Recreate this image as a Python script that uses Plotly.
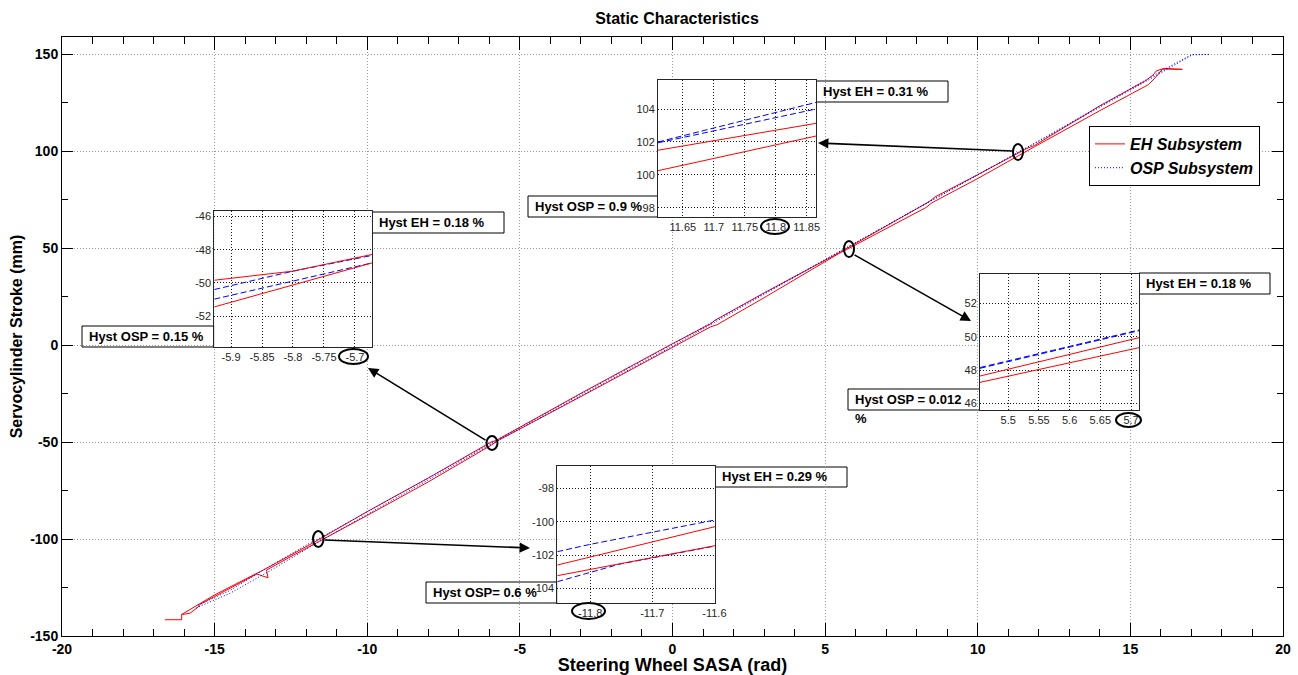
import plotly.graph_objects as go

# ---------------- main curves: steering wheel angle (rad) vs stroke (mm)
eh_x = [-16.63, -16.08, -16.08, -15.81, -15.55, -15.48, -15.0, -14.2, -13.62, -13.25,
        -13.3, -12.5, -11.85, -11.6, -10.0, -8.0, -5.93, -5.8, -5.67, -3.0, 0.0,
        1.25, 1.45, 3.0, 5.45, 5.71, 8.3, 8.5, 10.0, 11.61, 11.86,
        14.0, 15.3, 15.6, 15.9, 16.05, 16.7,
        16.1, 15.85, 15.75, 15.5, 14.0, 11.865, 11.61, 10.0, 8.6, 8.4,
        5.71, 5.45, 3.0, 1.35, 1.3, 0.0, -3.0, -5.67, -5.8, -5.93,
        -8.0, -10.0, -11.6, -11.85, -13.0, -13.35, -15.0, -15.6, -16.08]
eh_y = [-141.6, -141.6, -138.9, -138.3, -135.2, -133.7, -129.6, -123.0, -118.0, -120.0,
        -116.0, -109.0, -103.3, -101.4, -87.8, -70.5, -51.5, -50.1, -48.8, -26.5, -0.8,
        9.5, 10.5, 24.5, 47.3, 49.4, 71.0, 73.5, 86.0, 100.3, 102.4,
        121.0, 132.0, 134.5, 139.5, 142.5, 142.3,
        142.8, 141.5, 139.5, 136.5, 123.5, 103.1, 101.5, 88.0, 76.5, 74.0,
        49.9, 47.6, 27.0, 12.5, 11.5, 0.8, -24.8, -48.3, -49.3, -49.8,
        -68.5, -85.8, -100.3, -102.6, -112.5, -115.5, -128.8, -134.5, -138.9]

osp_x = [-15.6, -14.5, -13.2, -11.85, -11.6, -5.93, -5.67, 0.0, 5.45, 5.71,
         11.61, 11.865, 15.5, 16.5, 17.05, 17.6,
         17.0, 16.4, 15.5, 11.865, 11.61, 5.71, 5.45, 0.0, -5.67, -5.93,
         -11.6, -11.85, -13.2, -14.5, -15.6]
osp_y = [-135.5, -128.0, -116.5, -103.6, -101.5, -51.0, -48.8, -0.5, 48.1, 50.35,
         101.95, 104.0, 136.0, 145.0, 150.0, 150.0,
         149.8, 144.8, 136.8, 104.4, 102.0, 50.4, 48.15, 0.5, -48.3, -50.4,
         -99.9, -101.8, -114.0, -126.5, -134.5]

x_tickvals = [-20, -15, -10, -5, 0, 5, 10, 15, 20]
x_ticktext = ["-20", "-15", "-10", "-5", "0", "5", "10", "15", "20"]
y_tickvals = [-150, -100, -50, 0, 50, 100, 150]
y_ticktext = ["-150", "-100", "-50", "0", "50", "100", "150"]

# ---------------- zoom window 1 (around 11.8 rad)
z1_osp_a_x = [11.61, 11.865]
z1_osp_a_y = [102.0, 104.4]
z1_osp_b_x = [11.61, 11.865]
z1_osp_b_y = [101.95, 104.0]
z1_eh_a_x = [11.61, 11.865]
z1_eh_a_y = [101.5, 103.13]
z1_eh_b_x = [11.61, 11.865]
z1_eh_b_y = [100.26, 102.36]
z1_xticks = [11.65, 11.7, 11.75, 11.8, 11.85]
z1_xtext = ["11.65", "11.7", "11.75", "11.8", "11.85"]
z1_yticks = [98, 100, 102, 104]
z1_ytext = ["98", "100", "102", "104"]

# ---------------- zoom window 2 (around -5.8 rad)
z2_osp_a_x = [-5.927, -5.8, -5.672]
z2_osp_a_y = [-50.4, -49.29, -48.34]
z2_osp_b_x = [-5.927, -5.8, -5.672]
z2_osp_b_y = [-50.98, -49.9, -48.79]
z2_eh_a_x = [-5.927, -5.8, -5.672]
z2_eh_a_y = [-49.84, -49.29, -48.28]
z2_eh_b_x = [-5.927, -5.86, -5.8, -5.672]
z2_eh_b_y = [-51.45, -50.74, -50.1, -48.79]
z2_xticks = [-5.9, -5.85, -5.8, -5.75, -5.7]
z2_xtext = ["-5.9", "-5.85", "-5.8", "-5.75", "-5.7"]
z2_yticks = [-52, -50, -48, -46]
z2_ytext = ["-52", "-50", "-48", "-46"]

# ---------------- zoom window 3 (around 5.6 rad)
z3_osp_a_x = [5.454, 5.55, 5.62, 5.713]
z3_osp_a_y = [48.1, 48.95, 49.55, 50.36]
z3_osp_b_x = [5.454, 5.55, 5.62, 5.713]
z3_osp_b_y = [48.15, 49.0, 49.6, 50.4]
z3_eh_a_x = [5.454, 5.713]
z3_eh_a_y = [47.64, 49.94]
z3_eh_b_x = [5.454, 5.713]
z3_eh_b_y = [47.26, 49.34]
z3_xticks = [5.5, 5.55, 5.6, 5.65, 5.7]
z3_xtext = ["5.5", "5.55", "5.6", "5.65", "5.7"]
z3_yticks = [46, 48, 50, 52]
z3_ytext = ["46", "48", "50", "52"]

# ---------------- zoom window 4 (around -11.7 rad)
z4_osp_a_x = [-11.853, -11.8, -11.599]
z4_osp_a_y = [-101.8, -101.36, -99.9]
z4_osp_b_x = [-11.853, -11.752, -11.599]
z4_osp_b_y = [-103.6, -102.54, -101.46]
z4_eh_a_x = [-11.853, -11.599]
z4_eh_a_y = [-102.6, -100.3]
z4_eh_b_x = [-11.853, -11.599]
z4_eh_b_y = [-103.24, -101.44]
z4_xticks = [-11.8, -11.7, -11.6]
z4_xtext = ["-11.8", "-11.7", "-11.6"]
z4_yticks = [-104, -102, -100, -98]
z4_ytext = ["-104", "-102", "-100", "-98"]

# ---------------- page geometry (pixels)
W, H = 1298, 675
PL, PR, PT, PB = 62, 1283, 37, 636


def fx(px):
    return (px - PL) / (PR - PL)


def fy(py):
    return (PB - py) / (PB - PT)


FONT = "Liberation Sans, Arial, Helvetica, sans-serif"
RED = "#ff0000"
BLUE = "#0000ff"

fig = go.Figure()

fig.add_trace(go.Scatter(x=eh_x, y=eh_y, mode="lines", name="EH Subsystem",
                         line=dict(color=RED, width=1)))
fig.add_trace(go.Scatter(x=osp_x, y=osp_y, mode="lines", name="OSP Subsystem",
                         line=dict(color=BLUE, width=1, dash="1px,2px")))

insets = [
    dict(k=2, box=(658, 80, 816, 217), xr=[11.61, 11.865], yr=[97.45, 105.76],
         xt=(z1_xticks, z1_xtext), yt=(z1_yticks, z1_ytext),
         osp=[(z1_osp_a_x, z1_osp_a_y), (z1_osp_b_x, z1_osp_b_y)],
         eh=[(z1_eh_a_x, z1_eh_a_y), (z1_eh_b_x, z1_eh_b_y)]),
    dict(k=3, box=(214.3, 211, 372.3, 347), xr=[-5.927, -5.672], yr=[-53.87, -45.66],
         xt=(z2_xticks, z2_xtext), yt=(z2_yticks, z2_ytext),
         osp=[(z2_osp_a_x, z2_osp_a_y), (z2_osp_b_x, z2_osp_b_y)],
         eh=[(z2_eh_a_x, z2_eh_a_y), (z2_eh_b_x, z2_eh_b_y)]),
    dict(k=4, box=(980, 274, 1139, 410), xr=[5.454, 5.713], yr=[45.6, 53.76],
         xt=(z3_xticks, z3_xtext), yt=(z3_yticks, z3_ytext),
         osp=[(z3_osp_a_x, z3_osp_a_y), (z3_osp_b_x, z3_osp_b_y)],
         eh=[(z3_eh_a_x, z3_eh_a_y), (z3_eh_b_x, z3_eh_b_y)]),
    dict(k=5, box=(557.3, 466, 715, 602.7), xr=[-11.853, -11.599], yr=[-104.86, -96.66],
         xt=(z4_xticks, z4_xtext), yt=(z4_yticks, z4_ytext),
         osp=[(z4_osp_a_x, z4_osp_a_y), (z4_osp_b_x, z4_osp_b_y)],
         eh=[(z4_eh_a_x, z4_eh_a_y), (z4_eh_b_x, z4_eh_b_y)]),
]

inset_axis = dict(showline=True, mirror=True, linecolor="#262626", linewidth=1,
                  ticks="", showgrid=True, gridcolor="#1a1a1a", griddash="1px,2px",
                  gridwidth=1, zeroline=False, fixedrange=True, automargin=False,
                  tickfont=dict(family=FONT, size=11, color="#262626"))

layout_axes = {}
for ins in insets:
    k = ins["k"]
    x0, y0, x1, y1 = ins["box"]
    for xs, ys in ins["osp"]:
        fig.add_trace(go.Scatter(x=xs, y=ys, mode="lines", showlegend=False,
                                 xaxis=f"x{k}", yaxis=f"y{k}",
                                 line=dict(color=BLUE, width=1, dash="6px,3px")))
    for xs, ys in ins["eh"]:
        fig.add_trace(go.Scatter(x=xs, y=ys, mode="lines", showlegend=False,
                                 xaxis=f"x{k}", yaxis=f"y{k}",
                                 line=dict(color=RED, width=1)))
    layout_axes[f"xaxis{k}"] = dict(inset_axis, domain=[fx(x0), fx(x1)], range=ins["xr"],
                                    anchor=f"y{k}", tickmode="array",
                                    tickvals=ins["xt"][0], ticktext=ins["xt"][1])
    layout_axes[f"yaxis{k}"] = dict(inset_axis, domain=[fy(y1), fy(y0)], range=ins["yr"],
                                    anchor=f"x{k}", tickmode="array",
                                    tickvals=ins["yt"][0], ticktext=ins["yt"][1])

fig.update_layout(**layout_axes)

main_tickfont = dict(family=FONT, size=14, color="#000000", weight="bold")
fig.update_layout(
    width=W, height=H,
    margin=dict(l=PL, r=W - PR, t=PT, b=H - PB, pad=0, autoexpand=False),
    paper_bgcolor="white", plot_bgcolor="white",
    font=dict(family=FONT, color="#000000"),
    title=dict(text="Static Characteristics", x=677 / W, y=1 - 18 / H,
               xref="container", yref="container", xanchor="center", yanchor="middle",
               font=dict(family=FONT, size=16, weight="bold", color="#000000")),
    xaxis=dict(range=[-20, 20], tickmode="array", tickvals=x_tickvals, ticktext=x_ticktext,
               ticks="inside", ticklen=13, tickcolor="#000000", showline=True, mirror="ticks",
               linecolor="#000000", linewidth=1, showgrid=True, gridcolor="#9a9a9a",
               griddash="1px,2px", zeroline=False, tickfont=main_tickfont, fixedrange=True,
               minor=dict(tick0=0, dtick=1, ticks="inside", ticklen=7, tickcolor="#000000",
                          showgrid=False),
               title=dict(text="Steering Wheel SASA (rad)", standoff=4,
                          font=dict(family=FONT, size=18, weight="bold")),
               automargin=False),
    yaxis=dict(range=[-150, 159], tickmode="array", tickvals=y_tickvals, ticktext=y_ticktext,
               ticks="inside", ticklen=11, tickcolor="#000000", showline=True, mirror="ticks",
               linecolor="#000000", linewidth=1, showgrid=True, gridcolor="#9a9a9a",
               griddash="1px,2px", zeroline=False, tickfont=main_tickfont, fixedrange=True,
               minor=dict(tick0=0, dtick=25, ticks="inside", ticklen=6, tickcolor="#000000",
                          showgrid=False),
               title=dict(text="Servocylinder Stroke (mm)", standoff=3,
                          font=dict(family=FONT, size=16, weight="bold")),
               automargin=False),
    legend=dict(x=fx(1089), y=fy(126), xanchor="left", yanchor="top",
                bgcolor="white", bordercolor="#000000", borderwidth=1,
                font=dict(family=FONT, size=16, weight="bold", style="italic", color="#000000"),
                tracegroupgap=0, itemwidth=30),
    showlegend=True,
)

# text boxes beside each zoom window: (left, top, right, bottom) in pixels
boxes = [
    ((816, 81, 948, 102), "Hyst EH = 0.31 %"),
    ((528, 196, 658, 217), "Hyst OSP = 0.9 %"),
    ((372, 212, 504, 233), "Hyst EH = 0.18 %"),
    ((82, 326, 214, 347), "Hyst OSP = 0.15 %"),
    ((1139, 273, 1270, 294), "Hyst EH = 0.18 %"),
    ((848, 389, 980, 410), "Hyst OSP = 0.012"),
    ((715, 467, 847, 487), "Hyst EH = 0.29 %"),
    ((426, 582, 557, 603), "Hyst OSP= 0.6 %"),
]
shapes = []
annotations = []
for (l, t, r, b), txt in boxes:
    shapes.append(dict(type="rect", xref="paper", yref="paper", layer="below",
                       x0=fx(l), x1=fx(r), y0=fy(b), y1=fy(t),
                       fillcolor="white", line=dict(color="#000000", width=1)))
    annotations.append(dict(text=txt, xref="paper", yref="paper", x=fx(l + 5), y=fy((t + b) / 2),
                            xanchor="left", yanchor="middle", showarrow=False,
                            font=dict(family=FONT, size=13, weight="bold", color="#000000")))
annotations.append(dict(text="%", xref="paper", yref="paper", x=fx(853), y=fy(418),
                        xanchor="left", yanchor="middle", showarrow=False,
                        font=dict(family=FONT, size=13, weight="bold", color="#000000")))

# markers around the inspected points and around the zoomed tick labels
ellipses = [
    (1013, 144, 1023, 160), (844, 241, 854, 257), (486.5, 436, 497.5, 450), (313, 531, 323.5, 547),
    (761, 219, 789, 234), (339, 349, 368, 364), (1116, 413, 1141, 427), (572, 603, 605, 619),
]
for l, t, r, b in ellipses:
    shapes.append(dict(type="circle", xref="paper", yref="paper", layer="above",
                       x0=fx(l), x1=fx(r), y0=fy(b), y1=fy(t),
                       line=dict(color="#000000", width=2)))

# arrows from the inspected points to their zoom windows: head (px), tail offset (px)
arrows = [((818, 143), (196, 8)), ((971, 321), (-118, -67)),
          ((368, 368), (119, 73)), ((530, 548), (-207, -8))]
for (hx, hy), (ax, ay) in arrows:
    annotations.append(dict(text="", xref="paper", yref="paper", x=fx(hx), y=fy(hy),
                            ax=ax, ay=ay, showarrow=True, arrowhead=2, arrowsize=1.3,
                            arrowwidth=1.6, arrowcolor="#000000", standoff=0))

fig.update_layout(shapes=shapes, annotations=annotations)

fig.write_html("out.html")
